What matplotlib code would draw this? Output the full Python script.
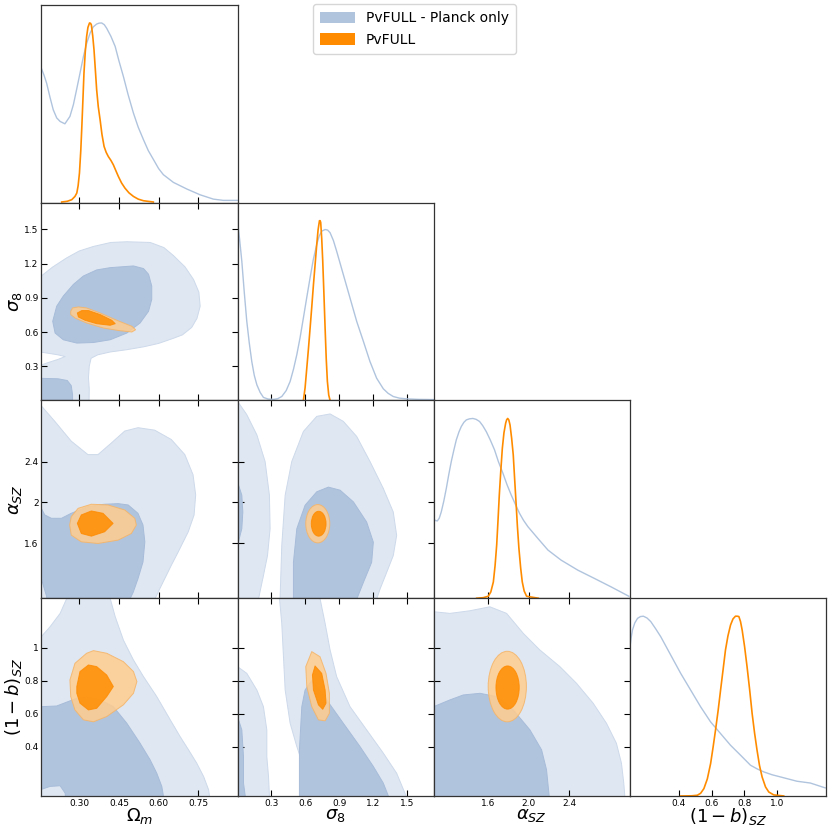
import matplotlib
matplotlib.use("Agg")
import matplotlib.pyplot as plt
from matplotlib.patches import Patch, Ellipse

# parameters: Omega_m, sigma_8, alpha_SZ, (1-b)_SZ
labels = [r"$\Omega_m$", r"$\sigma_8$", r"$\alpha_{SZ}$", r"$(1-b)_{SZ}$"]
limits = [(0.157, 0.898), (0.0, 1.733), (1.06, 3.0), (0.1, 1.3)]
ticks = [[0.30, 0.45, 0.60, 0.75], [0.3, 0.6, 0.9, 1.2, 1.5], [1.6, 2.0, 2.4], [0.4, 0.6, 0.8, 1.0]]
xtick_text = [["0.30", "0.45", "0.60", "0.75"], ["0.3", "0.6", "0.9", "1.2", "1.5"],
              ["1.6", "2.0", "2.4"], ["0.4", "0.6", "0.8", "1.0"]]
ytick_text = [None, ["0.3", "0.6", "0.9", "1.2", "1.5"], ["1.6", "2", "2.4"], ["0.4", "0.6", "0.8", "1"]]

# 1D marginals (normalised to peak = 1)
om_planck_x = [0.157, 0.167, 0.177, 0.19, 0.202, 0.215, 0.228, 0.246, 0.265, 0.278, 0.29, 0.303, 0.316,
               0.328, 0.341, 0.353, 0.366, 0.375, 0.385, 0.395, 0.404, 0.42, 0.436, 0.45, 0.467, 0.485,
               0.505, 0.523, 0.543, 0.561, 0.581, 0.6, 0.618, 0.656, 0.707, 0.757, 0.807, 0.845, 0.898]
om_planck_p = [0.748, 0.71, 0.665, 0.585, 0.517, 0.472, 0.452, 0.439, 0.48, 0.545, 0.628, 0.72, 0.813,
               0.885, 0.943, 0.978, 0.994, 0.999, 1.0, 0.99, 0.97, 0.925, 0.869, 0.79, 0.702, 0.60,
               0.498, 0.42, 0.35, 0.29, 0.239, 0.19, 0.156, 0.113, 0.076, 0.044, 0.02, 0.013, 0.013]
om_full_x = [0.234, 0.255, 0.272, 0.284, 0.291, 0.296, 0.301, 0.306, 0.31, 0.314, 0.318, 0.323, 0.328,
             0.333, 0.339, 0.343, 0.346, 0.351, 0.356, 0.361, 0.366, 0.372, 0.379, 0.386, 0.394, 0.402,
             0.41, 0.42, 0.429, 0.438, 0.448, 0.46, 0.473, 0.488, 0.505, 0.523, 0.543, 0.58]
om_full_p = [0.004, 0.008, 0.017, 0.035, 0.054, 0.095, 0.165, 0.29, 0.424, 0.57, 0.72, 0.84, 0.924,
             0.975, 1.0, 0.998, 0.989, 0.93, 0.85, 0.74, 0.628, 0.535, 0.461, 0.38, 0.313, 0.28,
             0.257, 0.235, 0.211, 0.18, 0.146, 0.11, 0.081, 0.055, 0.035, 0.02, 0.011, 0.004]

s8_planck_x = [0.0, 0.018, 0.038, 0.06, 0.082, 0.104, 0.126, 0.148, 0.171, 0.2, 0.229, 0.27, 0.318, 0.355,
               0.391, 0.43, 0.465, 0.495, 0.524, 0.553, 0.582, 0.611, 0.641, 0.67, 0.7, 0.722, 0.744,
               0.774, 0.796, 0.818, 0.847, 0.876, 0.935, 0.994, 1.053, 1.112, 1.17, 1.229, 1.288, 1.33,
               1.376, 1.43, 1.494, 1.6, 1.733]
s8_planck_p = [1.0, 0.9, 0.775, 0.6, 0.44, 0.32, 0.217, 0.14, 0.087, 0.045, 0.017, 0.008, 0.006, 0.01,
               0.022, 0.055, 0.106, 0.175, 0.255, 0.35, 0.459, 0.57, 0.682, 0.785, 0.868, 0.915, 0.942,
               0.951, 0.948, 0.933, 0.89, 0.83, 0.70, 0.57, 0.44, 0.329, 0.217, 0.124, 0.065, 0.04,
               0.022, 0.013, 0.009, 0.006, 0.005]
s8_full_x = [0.582, 0.597, 0.612, 0.627, 0.641, 0.656, 0.671, 0.686, 0.7, 0.712, 0.724, 0.73, 0.735,
             0.744, 0.753, 0.763, 0.774, 0.784, 0.794, 0.806, 0.818]
s8_full_p = [0.0, 0.07, 0.18, 0.29, 0.40, 0.52, 0.645, 0.76, 0.868, 0.95, 1.0, 1.0, 0.99, 0.9, 0.775,
             0.6, 0.40, 0.23, 0.106, 0.03, 0.0]

a_planck_x = [1.06, 1.078, 1.096, 1.115, 1.135, 1.16, 1.185, 1.21, 1.234, 1.26, 1.284, 1.31, 1.333, 1.358,
              1.383, 1.415, 1.448, 1.48, 1.514, 1.545, 1.58, 1.62, 1.662, 1.70, 1.745, 1.785, 1.827, 1.87,
              1.909, 1.95, 1.992, 2.09, 2.19, 2.32, 2.486, 2.65, 2.815, 2.99]
a_planck_p = [0.44, 0.432, 0.43, 0.445, 0.48, 0.54, 0.611, 0.69, 0.76, 0.825, 0.881, 0.925, 0.955, 0.978,
              0.992, 0.998, 1.0, 0.995, 0.983, 0.96, 0.927, 0.88, 0.825, 0.76, 0.695, 0.632, 0.574, 0.52,
              0.472, 0.432, 0.398, 0.333, 0.268, 0.212, 0.156, 0.11, 0.063, 0.011]
a_full_x = [1.485, 1.55, 1.6, 1.625, 1.65, 1.667, 1.683, 1.696, 1.709, 1.724, 1.739, 1.755, 1.772, 1.782,
            1.792, 1.803, 1.815, 1.831, 1.847, 1.86, 1.874, 1.888, 1.903, 1.92, 1.936, 1.955, 1.979, 2.094]
a_full_p = [0.0, 0.003, 0.011, 0.035, 0.09, 0.18, 0.295, 0.43, 0.574, 0.71, 0.834, 0.92, 0.974, 0.993,
            1.0, 0.992, 0.964, 0.89, 0.797, 0.67, 0.537, 0.40, 0.277, 0.17, 0.091, 0.04, 0.011, 0.0]

b_planck_x = [0.1, 0.108, 0.116, 0.13, 0.147, 0.165, 0.183, 0.205, 0.228, 0.258, 0.289, 0.35, 0.411, 0.472,
              0.533, 0.594, 0.655, 0.716, 0.777, 0.838, 0.88, 0.919, 0.97, 1.021, 1.122, 1.204, 1.295]
b_planck_p = [0.821, 0.88, 0.923, 0.962, 0.988, 0.998, 1.0, 0.99, 0.97, 0.93, 0.886, 0.784, 0.682, 0.589,
              0.496, 0.412, 0.347, 0.282, 0.227, 0.171, 0.15, 0.134, 0.118, 0.106, 0.082, 0.072, 0.045]
b_full_x = [0.411, 0.48, 0.513, 0.533, 0.553, 0.574, 0.594, 0.609, 0.624, 0.64, 0.655, 0.67, 0.685, 0.7,
            0.716, 0.731, 0.746, 0.757, 0.767, 0.777, 0.787, 0.802, 0.817, 0.833, 0.848, 0.863, 0.878,
            0.893, 0.909, 0.93, 0.95, 0.98, 1.041]
b_full_p = [0.0, 0.001, 0.004, 0.015, 0.041, 0.095, 0.18, 0.27, 0.366, 0.475, 0.589, 0.70, 0.812, 0.89,
            0.951, 0.985, 1.0, 1.0, 0.998, 0.97, 0.923, 0.83, 0.719, 0.59, 0.459, 0.35, 0.255, 0.17,
            0.106, 0.05, 0.022, 0.006, 0.0]

# 2D contours (95% = outer, 68% = inner), vertices in parameter units
s8_om_planck95 = [[(0.14, 1.07), (0.157, 1.091), (0.2, 1.17), (0.253, 1.25), (0.3, 1.31), (0.354, 1.35),
                   (0.42, 1.385), (0.48, 1.391), (0.568, 1.385), (0.62, 1.34), (0.656, 1.27), (0.70, 1.17),
                   (0.732, 1.06), (0.752, 0.95), (0.757, 0.826), (0.745, 0.72), (0.725, 0.64), (0.69, 0.575),
                   (0.656, 0.545), (0.6, 0.5), (0.543, 0.47), (0.48, 0.445), (0.417, 0.425), (0.37, 0.40),
                   (0.345, 0.37), (0.338, 0.30), (0.335, 0.20), (0.338, 0.10), (0.337, -0.05), (0.14, -0.05),
                   (0.14, 0.297), (0.18, 0.33), (0.22, 0.36), (0.247, 0.385), (0.22, 0.40), (0.18, 0.415),
                   (0.14, 0.429)]]
s8_om_planck68 = [[(0.200, 0.694), (0.215, 0.826), (0.240, 0.915), (0.278, 1.017), (0.316, 1.091),
                   (0.366, 1.144), (0.417, 1.164), (0.505, 1.179), (0.543, 1.156), (0.562, 1.106),
                   (0.574, 1.003), (0.574, 0.885), (0.562, 0.782), (0.530, 0.679), (0.48, 0.591),
                   (0.417, 0.532), (0.354, 0.508), (0.291, 0.503), (0.240, 0.532), (0.209, 0.591)],
                  [(0.14, 0.194), (0.157, 0.194), (0.22, 0.19), (0.255, 0.175), (0.27, 0.13), (0.275, 0.05),
                   (0.275, -0.05), (0.14, -0.05)]]
s8_om_full95 = [[(0.268, 0.782), (0.275, 0.811), (0.297, 0.82), (0.328, 0.811), (0.379, 0.767), (0.442, 0.703),
                 (0.499, 0.65), (0.513, 0.62), (0.499, 0.6), (0.455, 0.611), (0.391, 0.635), (0.328, 0.679),
                 (0.284, 0.723), (0.268, 0.753)]]
s8_om_full68 = [[(0.293, 0.767), (0.31, 0.788), (0.335, 0.788), (0.379, 0.753), (0.423, 0.703), (0.436, 0.673),
                 (0.417, 0.659), (0.366, 0.673), (0.322, 0.703), (0.297, 0.732)]]

a_om_planck95 = [[(0.14, 2.95), (0.157, 2.947), (0.207, 2.798), (0.270, 2.601), (0.333, 2.469), (0.371, 2.469),
                  (0.422, 2.584), (0.472, 2.70), (0.522, 2.733), (0.585, 2.709), (0.648, 2.617), (0.699, 2.469),
                  (0.730, 2.272), (0.740, 2.074), (0.734, 1.877), (0.712, 1.712), (0.674, 1.514),
                  (0.648, 1.383), (0.623, 1.251), (0.598, 1.119), (0.585, 1.047), (0.58, 1.0), (0.14, 1.0)]]
a_om_planck68 = [[(0.144, 1.942), (0.157, 1.942), (0.170, 1.877), (0.195, 1.844), (0.233, 1.844), (0.270, 1.893),
                  (0.333, 1.959), (0.396, 1.982), (0.447, 1.988), (0.485, 1.975), (0.522, 1.893), (0.541, 1.778),
                  (0.548, 1.613), (0.541, 1.416), (0.522, 1.251), (0.504, 1.119), (0.491, 1.047), (0.491, 0.99),
                  (0.182, 0.99), (0.176, 1.086), (0.157, 1.251), (0.144, 1.25)]]
a_om_full95 = [[(0.264, 1.778), (0.270, 1.86), (0.296, 1.942), (0.346, 1.982), (0.409, 1.975), (0.472, 1.926),
                (0.510, 1.844), (0.516, 1.778), (0.497, 1.695), (0.447, 1.630), (0.371, 1.597), (0.308, 1.613),
                (0.270, 1.679)]]
a_om_full68 = [[(0.293, 1.794), (0.308, 1.877), (0.346, 1.916), (0.390, 1.893), (0.428, 1.794), (0.396, 1.712),
                (0.346, 1.669), (0.308, 1.695)]]

a_s8_planck95 = [[(-0.05, 3.05), (0.0, 2.993), (0.082, 2.861), (0.171, 2.663), (0.244, 2.40), (0.282, 2.071),
                  (0.288, 1.742), (0.265, 1.478), (0.229, 1.281), (0.185, 1.05), (0.18, 1.0), (-0.05, 1.0)],
                 [(0.376, 1.0), (0.376, 1.05), (0.391, 1.577), (0.421, 2.071), (0.479, 2.40), (0.582, 2.696),
                  (0.7, 2.844), (0.818, 2.868), (0.935, 2.795), (1.053, 2.647), (1.171, 2.40), (1.288, 2.137),
                  (1.376, 1.906), (1.406, 1.676), (1.376, 1.478), (1.318, 1.314), (1.259, 1.149),
                  (1.229, 1.05), (1.22, 1.0)]]
a_s8_planck68 = [[(-0.05, 2.202), (0.0, 2.202), (0.038, 2.071), (0.047, 1.906), (0.038, 1.742), (0.0, 1.577),
                  (-0.05, 1.577)],
                 [(0.494, 1.0), (0.494, 1.412), (0.524, 1.742), (0.597, 1.972), (0.70, 2.104), (0.803, 2.150),
                  (0.906, 2.12), (1.024, 2.005), (1.141, 1.807), (1.2, 1.61), (1.185, 1.412), (1.112, 1.215),
                  (1.053, 1.05), (1.04, 1.0)]]
# ellipses: centre x, centre y, width, height
a_s8_full95 = (0.709, 1.791, 0.212, 0.376)
a_s8_full68 = (0.717, 1.791, 0.13, 0.244)

b_om_planck95 = [[(0.14, 1.067), (0.157, 1.067), (0.190, 1.127), (0.228, 1.208), (0.253, 1.299), (0.25, 1.35),
                  (0.42, 1.35), (0.417, 1.299), (0.436, 1.188), (0.467, 1.046), (0.505, 0.925), (0.543, 0.824),
                  (0.593, 0.703), (0.644, 0.562), (0.681, 0.461), (0.713, 0.380), (0.744, 0.299),
                  (0.770, 0.218), (0.789, 0.137), (0.792, 0.101), (0.795, 0.05), (0.14, 0.05)]]
b_om_planck68 = [[(0.14, 0.642), (0.157, 0.642), (0.215, 0.646), (0.291, 0.693), (0.328, 0.699), (0.379, 0.683),
                  (0.429, 0.642), (0.480, 0.541), (0.530, 0.420), (0.568, 0.319), (0.593, 0.238),
                  (0.612, 0.158), (0.618, 0.101), (0.62, 0.05), (0.25, 0.05), (0.247, 0.117), (0.228, 0.162),
                  (0.190, 0.158), (0.157, 0.14), (0.14, 0.14)]]
b_om_full95 = [[(0.265, 0.804), (0.284, 0.905), (0.328, 0.966), (0.354, 0.982), (0.404, 0.966), (0.467, 0.915),
                (0.505, 0.855), (0.518, 0.794), (0.505, 0.723), (0.467, 0.653), (0.404, 0.582), (0.354, 0.550),
                (0.316, 0.562), (0.284, 0.622), (0.268, 0.703)]]
b_om_full68 = [[(0.291, 0.764), (0.303, 0.855), (0.335, 0.895), (0.366, 0.885), (0.404, 0.834), (0.429, 0.764),
                (0.404, 0.703), (0.366, 0.632), (0.335, 0.622), (0.303, 0.663), (0.291, 0.723)]]

b_s8_planck95 = [[(-0.05, 0.885), (0.0, 0.885), (0.082, 0.844), (0.171, 0.743), (0.229, 0.642), (0.259, 0.501),
                  (0.259, 0.339), (0.274, 0.218), (0.282, 0.101), (0.285, 0.05), (-0.05, 0.05)],
                 [(0.371, 1.35), (0.371, 1.299), (0.391, 1.147), (0.406, 0.945), (0.421, 0.743), (0.465, 0.541),
                  (0.524, 0.400), (0.582, 0.279), (0.641, 0.178), (0.685, 0.101), (0.69, 0.05), (1.49, 0.05),
                  (1.488, 0.101), (1.479, 0.117), (1.406, 0.238), (1.288, 0.360), (1.141, 0.501),
                  (0.994, 0.642), (0.876, 0.824), (0.818, 0.986), (0.774, 1.147), (0.729, 1.299),
                  (0.729, 1.35)]]
b_s8_planck68 = [[(-0.05, 0.582), (0.0, 0.582), (0.038, 0.501), (0.053, 0.339), (0.053, 0.178), (0.068, 0.101),
                  (0.07, 0.05), (-0.05, 0.05)],
                 [(0.547, 0.05), (0.547, 0.380), (0.568, 0.642), (0.597, 0.743), (0.656, 0.8), (0.788, 0.683),
                  (0.935, 0.541), (1.082, 0.4), (1.2, 0.279), (1.288, 0.178), (1.332, 0.101), (1.34, 0.05)]]
b_s8_full95 = [[(0.656, 0.976), (0.729, 0.945), (0.782, 0.844), (0.812, 0.723), (0.812, 0.602), (0.774, 0.556),
                (0.715, 0.562), (0.656, 0.642), (0.612, 0.764), (0.603, 0.885)]]
b_s8_full68 = [[(0.685, 0.889), (0.744, 0.844), (0.774, 0.743), (0.782, 0.663), (0.753, 0.626), (0.715, 0.653),
                (0.671, 0.743), (0.662, 0.834)]]

b_a_planck95 = [[(1.0, 1.218), (1.06, 1.218), (1.221, 1.208), (1.419, 1.224), (1.616, 1.248), (1.781, 1.208),
                 (1.946, 1.087), (2.110, 0.986), (2.308, 0.885), (2.472, 0.784), (2.637, 0.663), (2.769, 0.541),
                 (2.867, 0.420), (2.917, 0.299), (2.940, 0.178), (2.95, 0.101), (2.95, 0.05), (1.0, 0.05)]]
b_a_planck68 = [[(1.0, 0.642), (1.06, 0.642), (1.221, 0.683), (1.353, 0.713), (1.518, 0.723), (1.682, 0.703),
                 (1.847, 0.622), (2.012, 0.501), (2.127, 0.380), (2.176, 0.259), (2.202, 0.101), (2.21, 0.05),
                 (1.0, 0.05)]]
b_a_full95 = (1.788, 0.764, 0.378, 0.428)
b_a_full68 = (1.791, 0.758, 0.23, 0.262)

BLUE = "#b0c4de"        # lightsteelblue
BLUE_LIGHT = "#dfe7f2"
ORANGE = "#ff8c00"      # darkorange
ORANGE_LIGHT = "#ffcc8e"
ORANGE_EDGE = "#f5b466"

marginals = {
    0: (om_planck_x, om_planck_p, om_full_x, om_full_p),
    1: (s8_planck_x, s8_planck_p, s8_full_x, s8_full_p),
    2: (a_planck_x, a_planck_p, a_full_x, a_full_p),
    3: (b_planck_x, b_planck_p, b_full_x, b_full_p),
}
contours = {
    (1, 0): (s8_om_planck95, s8_om_planck68, s8_om_full95, s8_om_full68),
    (2, 0): (a_om_planck95, a_om_planck68, a_om_full95, a_om_full68),
    (2, 1): (a_s8_planck95, a_s8_planck68, a_s8_full95, a_s8_full68),
    (3, 0): (b_om_planck95, b_om_planck68, b_om_full95, b_om_full68),
    (3, 1): (b_s8_planck95, b_s8_planck68, b_s8_full95, b_s8_full68),
    (3, 2): (b_a_planck95, b_a_planck68, b_a_full95, b_a_full68),
}


def draw_shape(ax, shape, fc, ec, alpha, z):
    if isinstance(shape, tuple):
        cx, cy, w, h = shape
        ax.add_patch(Ellipse((cx, cy), w, h, facecolor=fc, edgecolor=ec, lw=0.7, alpha=alpha, zorder=z))
    else:
        for poly in shape:
            xs, ys = zip(*poly)
            ax.fill(xs, ys, facecolor=fc, edgecolor=ec, lw=0.7, alpha=alpha, zorder=z,
                    joinstyle="round")


fig, axes = plt.subplots(4, 4, figsize=(8.3, 8.3), dpi=100)
fig.subplots_adjust(left=0.0498, right=0.9952, bottom=0.041, top=0.994, wspace=0, hspace=0)

for i in range(4):
    for j in range(4):
        ax = axes[i, j]
        if j > i:
            ax.remove()
            continue
        for sp in ax.spines.values():
            sp.set_linewidth(0.9)
            sp.set_color("#333333")
        ax.set_xlim(limits[j])
        ax.set_xticks(ticks[j])
        ax.set_xticklabels(xtick_text[j])
        if i == j:
            px, pp, fx, fp = marginals[i]
            ax.plot(px, pp, color=BLUE, lw=1.0)
            ax.plot(fx, fp, color=ORANGE, lw=1.2)
            ax.set_ylim(0, 1.1)
            ax.set_yticks([])
            ax.tick_params(direction="in", length=4, width=0.8, labelsize=6.5, pad=2)
        else:
            p95, p68, f95, f68 = contours[(i, j)]
            draw_shape(ax, p95, BLUE_LIGHT, "#cdd9ea", 1.0, 1)
            draw_shape(ax, p68, BLUE, "#a7bcd9", 1.0, 2)
            draw_shape(ax, f95, ORANGE_LIGHT, ORANGE_EDGE, 0.85, 3)
            draw_shape(ax, f68, ORANGE, ORANGE, 0.85, 4)
            ax.set_ylim(limits[i])
            ax.set_yticks(ticks[i])
            ax.set_yticklabels(ytick_text[i])
            ax.tick_params(direction="in", length=4, width=0.8, labelsize=6.5, pad=2,
                           top=True, right=True)
            if j > 0:
                ax.tick_params(labelleft=False)
            else:
                ax.set_ylabel(labels[i], fontsize=13, labelpad=0)
        if i < 3:
            ax.tick_params(labelbottom=False)
        else:
            ax.set_xlabel(labels[j], fontsize=13, labelpad=-1)

handles = [Patch(facecolor=BLUE, edgecolor="none", label="PvFULL - Planck only"),
           Patch(facecolor=ORANGE, edgecolor="none", label="PvFULL")]
fig.legend(handles=handles, loc="upper center", bbox_to_anchor=(0.4994, 1.0), fontsize=10,
           frameon=True, handlelength=2.5, handleheight=0.9, borderpad=0.5, labelspacing=0.55,
           borderaxespad=0.3)

fig.savefig("out.png", dpi=100)
